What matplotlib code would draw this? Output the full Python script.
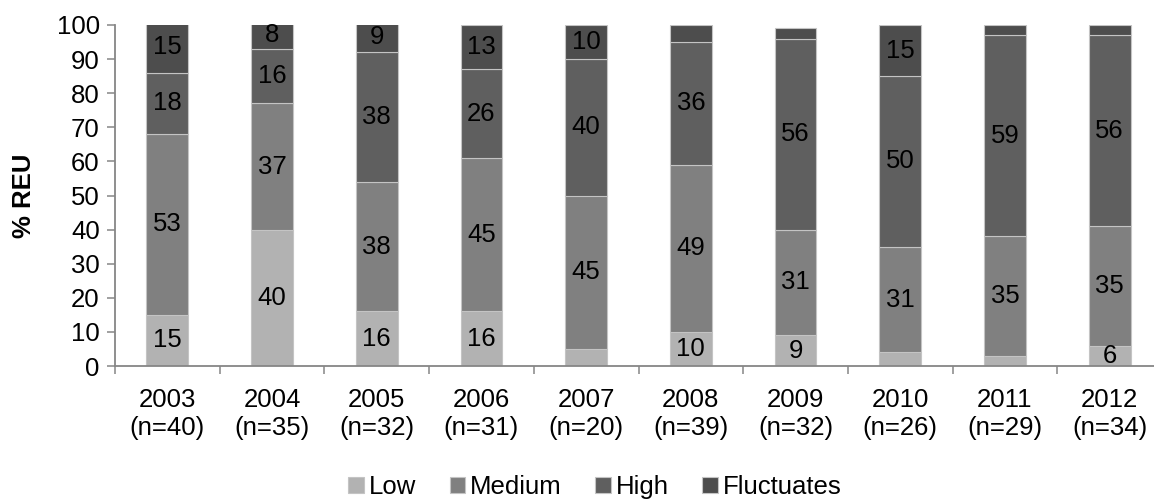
import numpy as np
import matplotlib
matplotlib.use("Agg")
import matplotlib.pyplot as plt

plt.rcParams["font.family"] = ["Liberation Sans", "DejaVu Sans"]

years = ["2003", "2004", "2005", "2006", "2007", "2008", "2009", "2010", "2011", "2012"]
n_obs = [40, 35, 32, 31, 20, 39, 32, 26, 29, 34]
low = [15, 40, 16, 16, 5, 10, 9, 4, 3, 6]
medium = [53, 37, 38, 45, 45, 49, 31, 31, 35, 35]
high = [18, 16, 38, 26, 40, 36, 56, 50, 59, 56]
fluctuates = [15, 8, 9, 13, 10, 5, 3, 15, 3, 3]

series = [("Low", low, "#b2b2b2"), ("Medium", medium, "#808080"),
          ("High", high, "#5f5f5f"), ("Fluctuates", fluctuates, "#4d4d4d")]

FS = 18.5
W, H = 1154, 499
fig = plt.figure(figsize=(W / 100, H / 100), dpi=100)
# plot area runs a little past the right edge of the canvas
ax = fig.add_axes([115 / W, 1 - 366 / H, 1047 / W, (366 - 25) / H])

x = np.arange(len(years))
bottom = np.zeros(len(years))
for name, vals, col in series:
    vals = np.array(vals, dtype=float)
    ax.bar(x, vals, 0.4, bottom=bottom, color=col, edgecolor="#c4c4c4",
           linewidth=0.8, label=name)
    for xi, b, v in zip(x, bottom, vals):
        if v >= 6:  # small segments stay unlabelled
            ax.text(xi, b + v / 2, f"{v:.0f}", ha="center", va="center",
                    fontsize=FS, color="black")
    bottom += vals

ax.set_xlim(-0.5, len(years) - 0.5)
ax.set_ylim(0, 100)
ax.set_yticks(range(0, 101, 10))
ax.set_xticks(x)
ax.set_xticklabels([f"{y}\n(n={n})" for y, n in zip(years, n_obs)], fontsize=FS)
ax.set_xticks(np.arange(-0.5, len(years), 1), minor=True)
ax.tick_params(axis="x", which="major", length=0, pad=16)
ax.tick_params(axis="x", which="minor", length=6, color="#868686", width=1.1)
ax.tick_params(axis="y", length=6, color="#868686", width=1.1, labelsize=FS, pad=5)
for s in ["top", "right"]:
    ax.spines[s].set_visible(False)
for s in ["left", "bottom"]:
    ax.spines[s].set_color("#868686")
    ax.spines[s].set_linewidth(1.3)

ax.set_ylabel("% REU", fontsize=FS, fontweight="bold")
ax.yaxis.set_label_coords(-(115 - 36) / 1047, 0.5)

fig.legend(loc="center", bbox_to_anchor=(595 / W, 1 - 487 / H), ncol=4,
           frameon=False, fontsize=FS, handlelength=0.6, handleheight=0.6,
           handletextpad=0.2, columnspacing=1.3, borderpad=0)

fig.savefig("out.png", dpi=100)
